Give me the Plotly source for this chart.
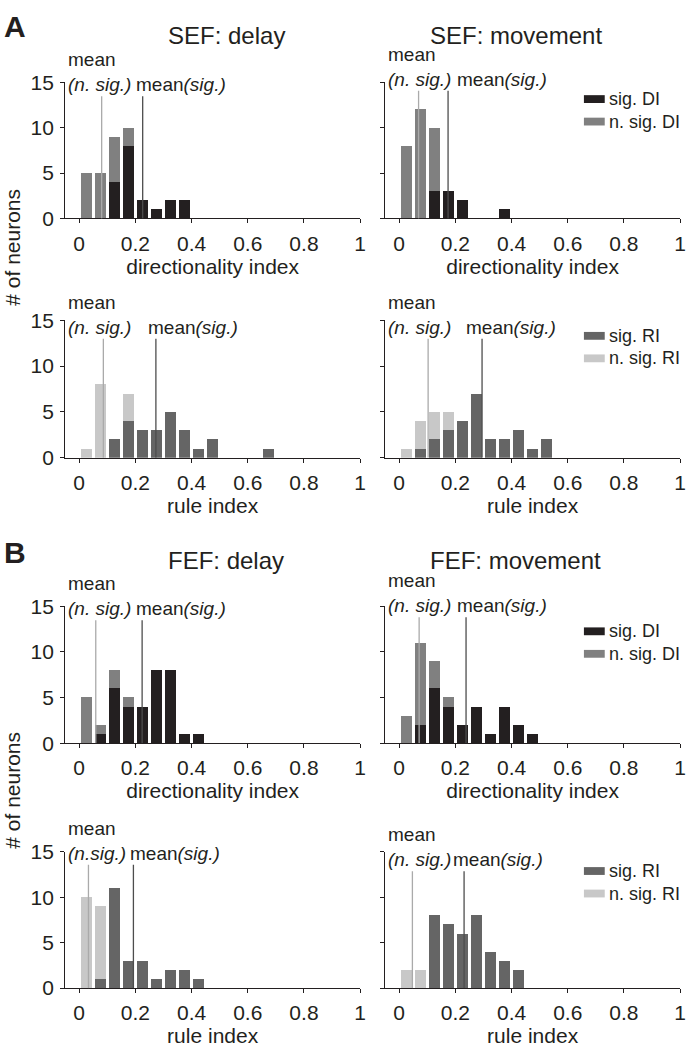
import plotly.graph_objects as go

# ---------------- data ----------------
bin_centers = [0.025, 0.075, 0.125, 0.175, 0.225, 0.275, 0.325,
               0.375, 0.425, 0.475, 0.525, 0.575, 0.625, 0.675]

x_tick_vals = [0, 0.2, 0.4, 0.6, 0.8, 1]
x_tick_text = ["0", "0.2", "0.4", "0.6", "0.8", "1"]
y_tick_vals = [0, 5, 10, 15]
y_tick_text = ["0", "5", "10", "15"]

panel_titles = ["SEF: delay", "SEF: movement", "FEF: delay", "FEF: movement"]
x_titles = ["directionality index", "rule index", "directionality index", "rule index"]
legend_names = [("sig. DI", "n. sig. DI"), ("sig. RI", "n. sig. RI"),
                ("sig. DI", "n. sig. DI"), ("sig. RI", "n. sig. RI")]

# SEF (A)
sef_delay_di_sig = [0, 0, 4, 8, 2, 1, 2, 2, 0, 0, 0, 0, 0, 0]
sef_delay_di_nsig = [5, 5, 5, 2, 0, 0, 0, 0, 0, 0, 0, 0, 0, 0]
sef_move_di_sig = [0, 0, 3, 3, 2, 0, 0, 1, 0, 0, 0, 0, 0, 0]
sef_move_di_nsig = [8, 12, 7, 0, 0, 0, 0, 0, 0, 0, 0, 0, 0, 0]
sef_delay_ri_sig = [0, 0, 2, 4, 3, 3, 5, 3, 1, 2, 0, 0, 0, 1]
sef_delay_ri_nsig = [1, 8, 0, 3, 0, 0, 0, 0, 0, 0, 0, 0, 0, 0]
sef_move_ri_sig = [0, 1, 2, 3, 4, 7, 2, 2, 3, 1, 2, 0, 0, 0]
sef_move_ri_nsig = [1, 3, 3, 2, 0, 0, 0, 0, 0, 0, 0, 0, 0, 0]
# FEF (B)
fef_delay_di_sig = [0, 1, 6, 4, 4, 8, 8, 1, 1, 0, 0, 0, 0, 0]
fef_delay_di_nsig = [5, 1, 2, 1, 0, 0, 0, 0, 0, 0, 0, 0, 0, 0]
fef_move_di_sig = [0, 2, 6, 4, 2, 4, 1, 4, 2, 1, 0, 0, 0, 0]
fef_move_di_nsig = [3, 9, 3, 1, 0, 0, 0, 0, 0, 0, 0, 0, 0, 0]
fef_delay_ri_sig = [0, 1, 11, 3, 3, 1, 2, 2, 1, 0, 0, 0, 0, 0]
fef_delay_ri_nsig = [10, 8, 0, 0, 0, 0, 0, 0, 0, 0, 0, 0, 0, 0]
fef_move_ri_sig = [0, 0, 8, 7, 6, 8, 4, 3, 2, 0, 0, 0, 0, 0]
fef_move_ri_nsig = [2, 2, 0, 0, 0, 0, 0, 0, 0, 0, 0, 0, 0, 0]

# means (order: A-DI-delay, A-DI-move, A-RI-delay, A-RI-move, B-DI-delay, B-DI-move, B-RI-delay, B-RI-move)
mean_nsig = [0.080, 0.069, 0.086, 0.103, 0.059, 0.071, 0.033, 0.047]
mean_sig = [0.226, 0.174, 0.273, 0.295, 0.224, 0.238, 0.193, 0.231]
mean_line_top = [13.45, 14.05, 12.97, 12.97, 13.46, 13.8, 13.56, 12.85]
sig_label_x = [0.200, 0.203, 0.242, 0.235, 0.200, 0.203, 0.178, 0.187]
nsig_label_text = ["(n. sig.)"] * 6 + ["(n.sig.)", "(n. sig.)"]

panels_sig = [sef_delay_di_sig, sef_move_di_sig, sef_delay_ri_sig, sef_move_ri_sig,
              fef_delay_di_sig, fef_move_di_sig, fef_delay_ri_sig, fef_move_ri_sig]
panels_nsig = [sef_delay_di_nsig, sef_move_di_nsig, sef_delay_ri_nsig, sef_move_ri_nsig,
               fef_delay_di_nsig, fef_move_di_nsig, fef_delay_ri_nsig, fef_move_ri_nsig]

# ---------------- style ----------------
W, H = 695, 1064
FONT = "Liberation Sans, Arial, sans-serif"
TXT = "#231f20"
DI_SIG, DI_NSIG = "#231f20", "#808080"
RI_SIG, RI_NSIG = "#656565", "#c8c8c8"
LINE_NSIG, LINE_SIG = "#aaaaaa", "#4d4d4d"

col_px = [(65.7, 363.3), (388.5, 686.0)]
row_px = [(71.7, 211.0), (315.0, 455.7), (607.3, 747.3), (858.3, 997.7)]
legend_rows_px = [(89.0, 112.0), (331.0, 354.0), (633.0, 656.0), (878.0, 901.0)]
legend_swatch_x_px = (589.0, 610.0)
legend_text_x_px = 613.0
title_y_px = [24, 561]
ylab_y_px = [240, 795]

fig = go.Figure()
layout = dict(
    width=W, height=H, margin=dict(l=0, r=0, t=0, b=0),
    paper_bgcolor="white", plot_bgcolor="white",
    barmode="stack", bargap=0.2, showlegend=False,
    font=dict(family=FONT, color=TXT, size=20),
    shapes=[], annotations=[],
)

for i in range(8):
    row, col = i // 2, i % 2
    n = i + 1
    xa = "x" if n == 1 else f"x{n}"
    ya = "y" if n == 1 else f"y{n}"
    is_ri = row in (1, 3)
    c_sig, c_nsig = (RI_SIG, RI_NSIG) if is_ri else (DI_SIG, DI_NSIG)
    lname = legend_names[row]
    fig.add_trace(go.Bar(x=bin_centers, y=panels_sig[i], xaxis=xa, yaxis=ya,
                         marker=dict(color=c_sig, line=dict(width=0)),
                         name=lname[0], width=0.04))
    fig.add_trace(go.Bar(x=bin_centers, y=panels_nsig[i], xaxis=xa, yaxis=ya,
                         marker=dict(color=c_nsig, line=dict(width=0)),
                         name=lname[1], width=0.04))

    x0p, x1p = col_px[col]
    t_px, b_px = row_px[row]
    xkey = "xaxis" if n == 1 else f"xaxis{n}"
    ykey = "yaxis" if n == 1 else f"yaxis{n}"
    layout[xkey] = dict(
        domain=[x0p / W, x1p / W], anchor=ya, range=[-0.05, 1],
        tickvals=x_tick_vals, ticktext=x_tick_text,
        ticks="outside", ticklen=4, tickwidth=1, tickcolor=TXT,
        showline=True, linecolor=TXT, linewidth=1, showgrid=False, zeroline=False,
        tickfont=dict(size=21, family=FONT, color=TXT), ticklabelstandoff=2,
        title=dict(text=x_titles[row], font=dict(size=21, family=FONT, color=TXT), standoff=4),
        fixedrange=True,
    )
    layout[ykey] = dict(
        domain=[1 - b_px / H, 1 - t_px / H], anchor=xa, range=[0, 15],
        tickvals=y_tick_vals, ticktext=y_tick_text,
        ticks="outside", ticklen=4, tickwidth=1, tickcolor=TXT,
        showline=True, linecolor=TXT, linewidth=1, showgrid=False, zeroline=False,
        showticklabels=(col == 0),
        tickfont=dict(size=21, family=FONT, color=TXT), ticklabelstandoff=2,
        fixedrange=True,
    )

    # mean lines
    layout["shapes"].append(dict(type="line", xref=xa, yref=ya,
                                 x0=mean_nsig[i], x1=mean_nsig[i], y0=0, y1=mean_line_top[i],
                                 line=dict(color=LINE_NSIG, width=1.3), layer="above"))
    layout["shapes"].append(dict(type="line", xref=xa, yref=ya,
                                 x0=mean_sig[i], x1=mean_sig[i], y0=0, y1=mean_line_top[i],
                                 line=dict(color=LINE_SIG, width=1.3), layer="above"))
    # mean labels
    layout["annotations"].append(dict(
        xref=xa, yref=ya, x=-0.045, y=mean_line_top[i], xanchor="left", yanchor="bottom",
        text=f"mean<br><i>{nsig_label_text[i]}</i>", align="left", showarrow=False,
        font=dict(size=19, family=FONT, color=TXT), borderpad=0))
    layout["annotations"].append(dict(
        xref=xa, yref=ya, x=sig_label_x[i], y=mean_line_top[i], xanchor="left", yanchor="bottom",
        text="mean<i>(sig.)</i>", align="left", showarrow=False,
        font=dict(size=19, family=FONT, color=TXT), borderpad=0))

# legends (drawn in right-column panels)
for r in range(4):
    is_ri = r in (1, 3)
    colors = (RI_SIG, RI_NSIG) if is_ri else (DI_SIG, DI_NSIG)
    for k in range(2):
        yc = legend_rows_px[r][k]
        layout["shapes"].append(dict(type="rect", xref="paper", yref="paper",
                                     x0=legend_swatch_x_px[0] / W, x1=legend_swatch_x_px[1] / W,
                                     y0=1 - (yc + 4) / H, y1=1 - (yc - 4) / H,
                                     fillcolor=colors[k], line=dict(width=0)))
        layout["annotations"].append(dict(xref="paper", yref="paper",
                                          x=legend_text_x_px / W, y=1 - yc / H,
                                          xanchor="left", yanchor="middle",
                                          text=legend_names[r][k], showarrow=False,
                                          borderpad=0,
                                          font=dict(size=18, family=FONT, color=TXT)))

# titles, panel letters, y titles
for b in range(2):
    yp = 1 - title_y_px[b] / H
    layout["annotations"].append(dict(xref="paper", yref="paper", x=228 / W, y=yp,
                                      xanchor="center", yanchor="middle",
                                      text=panel_titles[2 * b], showarrow=False,
                                      font=dict(size=24, family=FONT, color=TXT)))
    layout["annotations"].append(dict(xref="paper", yref="paper", x=520 / W, y=yp,
                                      xanchor="center", yanchor="middle",
                                      text=panel_titles[2 * b + 1], showarrow=False,
                                      font=dict(size=24, family=FONT, color=TXT)))
    layout["annotations"].append(dict(xref="paper", yref="paper", x=2 / W, y=yp + 9 / H,
                                      xanchor="left", yanchor="middle",
                                      text="<b>" + ["A", "B"][b] + "</b>",
                                      showarrow=False,
                                      font=dict(size=30, family=FONT, color=TXT)))
    layout["annotations"].append(dict(xref="paper", yref="paper", x=13 / W, y=1 - ylab_y_px[b] / H,
                                      xanchor="center", yanchor="middle",
                                      text="# of neurons", textangle=-90, showarrow=False,
                                      font=dict(size=21, family=FONT, color=TXT)))

fig.update_layout(**layout)
fig.write_html("out.html", config={"displayModeBar": False},
               post_script="document.body.style.margin='0';document.body.style.overflow='hidden';")
